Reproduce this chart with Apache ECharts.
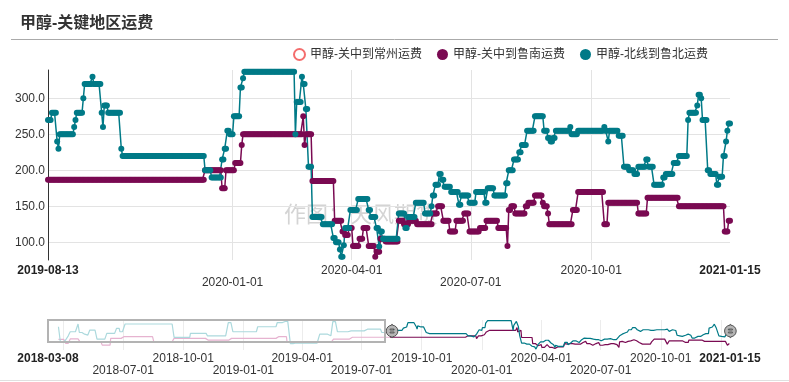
<!DOCTYPE html>
<html><head><meta charset="utf-8">
<script src="https://cdn.jsdelivr.net/npm/echarts@6/dist/echarts.min.js"></script>
<style>html,body{margin:0;padding:0;background:#fff}#c{width:789px;height:382px}</style>
</head><body><div id="c"></div>
<script>
// ---------------- data ----------------
const titleText = '甲醇-关键地区运费';
const seriesNames = ['甲醇-关中到常州运费', '甲醇-关中到鲁南运费', '甲醇-北线到鲁北运费'];
const watermarkText = '作图：天风期货';
const earlyBase = '2018-03-08';   // first date of the full range
const mainBase = '2019-08-13';    // first date of the zoomed window
const endDate = '2021-01-15';     // last date
// step runs: [fromDay, toDay, value]; days counted from the run table's base date, one point per day
const tealEarlyRuns = [
  [16,18,282],[19,26,140],[27,30,162],[31,33,200],[34,45,237],[46,47,307],[48,53,230],[54,56,215],
  [57,63,207],[64,74,252],[75,89,170],[90,104,222],[105,109,268],[110,117,237],[118,192,307],
  [193,217,186],[218,243,222],[244,275,200],[276,282,320],[283,320,237],[321,350,282],[351,362,320],
  [363,370,330],[371,375,130],[376,415,135],[416,430,215],[431,435,200],[436,442,328],[443,461,237],
  [462,486,245],[487,510,260],[511,522,230]
];
const tealMainRuns = [
  [0,2,270],[3,6,280],[7,7,240],[8,8,230],[9,19,250],[20,20,260],[21,21,270],[22,26,280],[27,27,300],
  [28,33,320],[34,34,330],[35,40,320],[41,41,280],[42,42,260],[43,45,290],[46,55,280],[56,56,230],
  [57,119,220],[120,124,200],[125,132,190],[133,134,215],[135,136,230],[137,138,255],[139,141,250],
  [142,146,275],[147,148,315],[149,149,328],[150,188,337],[189,189,250],[190,193,295],[194,194,330],
  [195,196,320],[197,198,285],[199,201,205],[202,209,135],[210,217,125],[218,219,106],[220,222,100],
  [223,223,90],[224,225,80],[226,226,96],[227,230,120],[231,236,145],[237,244,160],[245,246,145],
  [247,250,135],[251,252,120],[253,253,94],[254,255,115],[256,267,105],[268,272,140],[273,274,120],
  [275,280,135],[281,287,155],[288,292,140],[293,293,150],[294,295,165],[296,298,180],[299,300,195],
  [301,302,187],[303,307,177],[308,313,170],[314,315,152],[316,321,165],[322,326,155],[327,333,170],
  [334,335,155],[336,340,175],[341,349,165],[350,351,182],[352,355,200],[356,359,215],[360,361,225],
  [362,365,235],[366,371,255],[372,378,275],[379,381,255],[382,383,245],[384,385,240],[386,387,245],
  [388,398,255],[399,399,260],[400,404,250],[405,424,255],[425,425,260],[426,427,255],[428,428,240],
  [429,435,255],[436,439,248],[440,443,205],[444,447,200],[448,450,195],[451,456,205],[457,458,215],
  [459,462,205],[463,469,180],[470,471,190],[472,477,195],[478,481,210],[482,488,220],[489,489,270],
  [490,495,280],[496,496,290],[497,498,305],[499,499,300],[500,503,270],[504,505,200],[506,510,195],
  [511,512,180],[513,515,191],[516,517,220],[518,518,240],[519,519,255],[520,521,265]
];
const maroonEarlyRuns = [
  [16,26,168],[27,33,132],[34,48,172],[49,82,146],[83,95,116],[96,115,177],[116,161,192],[162,192,146],
  [193,242,177],[243,278,162],[279,350,177],[351,365,192],[366,385,140],[386,436,146],[437,461,170],
  [462,522,187]
];
const maroonMainRuns = [
  [0,119,187],[120,132,200],[133,135,175],[136,142,200],[143,147,210],[148,148,235],[149,194,250],
  [195,195,275],[196,196,235],[197,201,250],[202,218,185],[219,224,130],[225,226,115],[227,229,110],
  [230,232,120],[233,237,95],[238,240,105],[241,244,120],[245,249,95],[250,250,80],[251,253,87],
  [254,257,105],[258,267,101],[268,271,130],[272,275,125],[276,281,130],[282,293,125],[294,297,140],
  [298,301,150],[302,306,130],[307,311,115],[312,317,130],[318,321,140],[322,329,115],[330,334,120],
  [335,343,130],[344,350,120],[351,351,95],[352,353,145],[354,356,150],[357,364,140],[365,366,150],
  [367,371,155],[372,377,165],[378,378,155],[379,381,150],[382,382,140],[383,400,125],[401,404,145],
  [405,424,170],[425,427,125],[428,450,155],[451,457,140],[458,481,162],[482,516,150],[517,519,115],
  [520,521,130]
];
const changzhouValues = [];
const mainLabelDates = ['2019-08-13', '2020-01-01', '2020-04-01', '2020-07-01', '2020-10-01', '2021-01-15'];
const mainGridDates = ['2020-01-01', '2020-04-01', '2020-07-01', '2020-10-01'];
const sliderLabelDates = ['2018-03-08', '2018-07-01', '2018-10-01', '2019-01-01', '2019-04-01', '2019-07-01',
  '2019-10-01', '2020-01-01', '2020-04-01', '2020-07-01', '2020-10-01', '2021-01-15'];
const sliderGridDates = ['2018-04-01', '2018-07-01', '2018-10-01', '2019-01-01', '2019-04-01', '2019-07-01',
  '2019-10-01', '2020-01-01', '2020-04-01', '2020-07-01', '2020-10-01', '2021-01-01'];

// ---------------- helpers ----------------
const DAY = 86400000;
function t(s) { const p = s.split('-').map(Number); return Date.UTC(p[0], p[1] - 1, p[2]); }
function expand(runs, base) {
  const b = t(base), out = [];
  runs.forEach(r => { for (let d = r[0]; d <= r[1]; d++) out.push([b + d * DAY, r[2]]); });
  return out;
}
const tealEarly = expand(tealEarlyRuns, earlyBase), tealMain = expand(tealMainRuns, mainBase);
const maroonEarly = expand(maroonEarlyRuns, earlyBase), maroonMain = expand(maroonMainRuns, mainBase);
const tealData = tealEarly.concat(tealMain);
const maroonData = maroonEarly.concat(maroonMain);
function fmtDate(v) {
  const d = new Date(v);
  const m = d.getUTCMonth() + 1, dd = d.getUTCDate();
  return d.getUTCFullYear() + '-' + (m < 10 ? '0' : '') + m + '-' + (dd < 10 ? '0' : '') + dd;
}
function makeFormatter(edges) {
  return function (v) {
    const s = fmtDate(v);
    if (edges.some(e => Math.abs(e - v) < 1000)) return '{b|' + s + '}';
    const m = new Date(v).getUTCMonth();
    return (m === 0 || m === 6) ? '\n' + s : s;
  };
}
const TEAL = '#007a87', MAROON = '#7a0a52', RED = '#f46d6d';
const TEAL_LIGHT = '#acd9dd', MAROON_LIGHT = '#e6b3d0';
const FONT = "'Liberation Sans', 'Noto Sans CJK SC', sans-serif";

function mini(name, data, color) {
  return { name: name, type: 'line', xAxisIndex: 1, yAxisIndex: 1, data: data,
    showSymbol: false, symbol: 'none', silent: true, color: color, lineStyle: { width: 1.2, color: color } };
}

const chart = echarts.init(document.getElementById('c'), null, { renderer: 'canvas' });
chart.setOption({
  animation: false,
  backgroundColor: '#fff',
  textStyle: { fontFamily: FONT },
  title: {
    text: titleText, left: 15, top: 11,
    textStyle: { fontSize: 16, fontWeight: 'bold', color: '#333', fontFamily: FONT }
  },
  legend: {
    left: 288, top: 43, itemWidth: 11, itemHeight: 11, itemGap: 15,
    textStyle: { fontSize: 12, color: '#333' },
    data: [
      { name: seriesNames[0], icon: 'emptyCircle' },
      { name: seriesNames[1], icon: 'circle' },
      { name: seriesNames[2], icon: 'circle' }
    ]
  },
  grid: [
    { left: 48, right: 59, top: 70, height: 190 },
    { left: 48, right: 59, top: 320, height: 30 }
  ],
  xAxis: [
    {
      type: 'value', gridIndex: 0, min: t(earlyBase), max: t(endDate), scale: true,
      axisLine: { show: false }, axisTick: { show: false, customValues: mainGridDates.map(t) },
      splitLine: { show: true, lineStyle: { color: '#e3e3e3' } },
      axisLabel: {
        customValues: mainLabelDates.map(t), margin: 5, fontSize: 12, color: '#333', lineHeight: 12,
        hideOverlap: false,
        formatter: makeFormatter([t(mainBase), t(endDate)]),
        rich: { b: { fontWeight: 'bold', fontSize: 12, color: '#222', lineHeight: 12 } }
      }
    },
    {
      type: 'value', gridIndex: 1, min: t(earlyBase), max: t(endDate), scale: true,
      axisLine: { show: false }, axisTick: { show: false, customValues: sliderGridDates.map(t) },
      splitLine: { show: true, lineStyle: { color: '#ececec' } },
      axisLabel: {
        customValues: sliderLabelDates.map(t), margin: 2, fontSize: 12, color: '#333', lineHeight: 12.5,
        hideOverlap: false,
        formatter: makeFormatter([t(earlyBase), t(endDate)]),
        rich: { b: { fontWeight: 'bold', fontSize: 12, color: '#222', lineHeight: 12.5 } }
      }
    }
  ],
  yAxis: [
    {
      type: 'value', gridIndex: 0, min: 75.4, max: 339.3,
      axisLine: { show: true, lineStyle: { color: '#333' } }, axisTick: { show: false },
      axisLabel: { margin: 3, fontSize: 12, color: '#333', showMinLabel: false, showMaxLabel: false,
        formatter: v => v.toFixed(1) },
      splitLine: { show: true, showMinLine: false, showMaxLine: false, lineStyle: { color: '#e3e3e3' } }
    },
    { type: 'value', gridIndex: 1, min: 72, max: 343, show: false, splitLine: { show: false } }
  ],
  dataZoom: [{
    type: 'slider', xAxisIndex: 0, filterMode: 'filter',
    startValue: t(mainBase), endValue: t(endDate),
    left: 48, right: 59, top: 320, height: 22,
    showDataShadow: false, showDetail: false, brushSelect: false, moveHandleSize: 0,
    borderColor: 'transparent', backgroundColor: 'transparent', fillerColor: 'rgba(0,0,0,0)',
    handleIcon: 'path://M10.7,11.9v-1.3H9.3v1.3c-4.9,0.3-8.8,4.4-8.8,9.4c0,5,3.9,9.1,8.8,9.4v1.3h1.3v-1.3c4.9-0.3,8.8-4.4,8.8-9.4C19.5,16.3,15.6,12.2,10.7,11.9z M13.3,24.4H6.7V23h6.6V24.4z M13.3,19.6H6.7v-1.4h6.6V19.6z',
    handleSize: '60%', handleStyle: { color: '#b5b5b5', borderColor: '#555', borderWidth: 1 }
  }],
  graphic: [
    { type: 'line', shape: { x1: 11, y1: 39.5, x2: 778, y2: 39.5 }, style: { stroke: '#aaaaaa', lineWidth: 1 }, silent: true },
    { type: 'text', x: 361, y: 216, z: 0, silent: true,
      style: { text: watermarkText, fontSize: 22, fill: '#d4d4d4', align: 'center', verticalAlign: 'middle', fontFamily: FONT } },
    { type: 'rect', shape: { x: 48, y: 320, width: 337, height: 22 }, z: 10, silent: true,
      style: { fill: 'none', stroke: '#b3b3b3', lineWidth: 2 } },
    { type: 'line', shape: { x1: 0, y1: 380.5, x2: 789, y2: 380.5 }, style: { stroke: '#e0e0e0', lineWidth: 1 }, silent: true }
  ],
  series: [
    { name: seriesNames[0], type: 'line', xAxisIndex: 0, yAxisIndex: 0, data: changzhouValues,
      symbol: 'emptyCircle', color: RED },
    { name: seriesNames[1], type: 'line', xAxisIndex: 0, yAxisIndex: 0, data: maroonData,
      symbol: 'circle', symbolSize: 6, showAllSymbol: true, color: MAROON, lineStyle: { width: 1.5, color: MAROON } },
    { name: seriesNames[2], type: 'line', xAxisIndex: 0, yAxisIndex: 0, data: tealData,
      symbol: 'circle', symbolSize: 6, showAllSymbol: true, color: TEAL, lineStyle: { width: 1.5, color: TEAL } },
    mini('mini-maroon-early', maroonEarly, MAROON_LIGHT),
    mini('mini-teal-early', tealEarly, TEAL_LIGHT),
    mini('mini-maroon', maroonMain, MAROON),
    mini('mini-teal', tealMain, TEAL)
  ]
});
</script></body></html>
